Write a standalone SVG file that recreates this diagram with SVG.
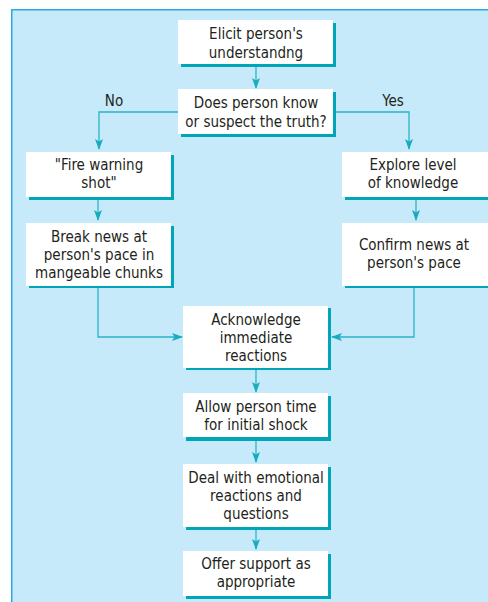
<svg xmlns="http://www.w3.org/2000/svg" width="488" height="602" viewBox="0 0 488 602">
<defs>
<style>
.box{fill:#ffffff}
.sh{fill:#00a6b8}
.t{font-family:"DejaVu Sans Condensed","Liberation Sans",Arial,sans-serif;font-size:15px;fill:#231f20;text-anchor:middle}
.c{fill:none;stroke:#2cb3c6;stroke-width:1.3}
</style>
<marker id="ah" markerUnits="userSpaceOnUse" markerWidth="12" markerHeight="9" refX="10" refY="4" orient="auto" viewBox="0 0 12 9">
<path d="M0,0 L11,4 L0,8 L2.5,4 z" fill="#19abc0"/>
</marker>
</defs>
<rect x="0" y="0" width="488" height="602" fill="#ffffff"/>
<rect x="11.75" y="9.75" width="520" height="650" fill="#c6eaf9" stroke="#2aa9e0" stroke-width="1.5"/>

<g id="connectors">
<path class="c" d="M256,67 V88" marker-end="url(#ah)"/>
<path class="c" d="M178,112 H99 V149" marker-end="url(#ah)"/>
<path class="c" d="M333,112 H409 V149" marker-end="url(#ah)"/>
<path class="c" d="M98,200 V220" marker-end="url(#ah)"/>
<path class="c" d="M416,200 V220" marker-end="url(#ah)"/>
<path class="c" d="M98,288 V337 H182" marker-end="url(#ah)"/>
<path class="c" d="M414,288 V337 H332" marker-end="url(#ah)"/>
<path class="c" d="M256,370 V392" marker-end="url(#ah)"/>
<path class="c" d="M256,441 V462" marker-end="url(#ah)"/>
<path class="c" d="M256,530 V549" marker-end="url(#ah)"/>
<text class="t" x="114" y="106">No</text>
<text class="t" x="393" y="106">Yes</text>
</g>

<g id="elicit">
<rect class="sh" x="181" y="23" width="155" height="44"/>
<rect class="box" x="178" y="20" width="155" height="44"/>
<text class="t" x="256" y="39">Elicit person's</text>
<text class="t" x="256" y="58">understandng</text>
</g>

<g id="decision">
<rect class="sh" x="181" y="92" width="155" height="45"/>
<rect class="box" x="178" y="89" width="155" height="45"/>
<text class="t" x="256" y="108">Does person know</text>
<text class="t" x="256" y="127">or suspect the truth?</text>
</g>

<g id="fire">
<rect class="sh" x="29" y="155" width="145" height="45"/>
<rect class="box" x="26" y="152" width="145" height="45"/>
<text class="t" x="99" y="170">"Fire warning</text>
<text class="t" x="99" y="188">shot"</text>
</g>

<g id="explore">
<rect class="sh" x="345" y="155" width="146" height="45"/>
<rect class="box" x="342" y="152" width="146" height="45"/>
<text class="t" x="413" y="170">Explore level</text>
<text class="t" x="413" y="188">of knowledge</text>
</g>

<g id="break">
<rect class="sh" x="29" y="226" width="145" height="62"/>
<rect class="box" x="26" y="223" width="145" height="63"/>
<text class="t" x="99" y="242">Break news at</text>
<text class="t" x="99" y="260">person's pace in</text>
<text class="t" x="99" y="278">mangeable chunks</text>
</g>

<g id="confirm">
<rect class="sh" x="345" y="226" width="146" height="62"/>
<rect class="box" x="342" y="223" width="146" height="63"/>
<text class="t" x="414" y="250">Confirm news at</text>
<text class="t" x="414" y="268">person's pace</text>
</g>

<g id="acknowledge">
<rect class="sh" x="186" y="308" width="145" height="62"/>
<rect class="box" x="183" y="306" width="145" height="62"/>
<text class="t" x="256" y="325">Acknowledge</text>
<text class="t" x="256" y="343">immediate</text>
<text class="t" x="256" y="361">reactions</text>
</g>

<g id="allow">
<rect class="sh" x="186" y="396" width="145" height="45"/>
<rect class="box" x="183" y="393" width="145" height="44"/>
<text class="t" x="256" y="412">Allow person time</text>
<text class="t" x="256" y="430">for initial shock</text>
</g>

<g id="deal">
<rect class="sh" x="186" y="467" width="145" height="63"/>
<rect class="box" x="183" y="464" width="145" height="63"/>
<text class="t" x="256" y="483">Deal with emotional</text>
<text class="t" x="256" y="501">reactions and</text>
<text class="t" x="256" y="519">questions</text>
</g>

<g id="offer">
<rect class="sh" x="186" y="554" width="145" height="45"/>
<rect class="box" x="183" y="551" width="145" height="45"/>
<text class="t" x="256" y="569">Offer support as</text>
<text class="t" x="256" y="587">appropriate</text>
</g>
</svg>
